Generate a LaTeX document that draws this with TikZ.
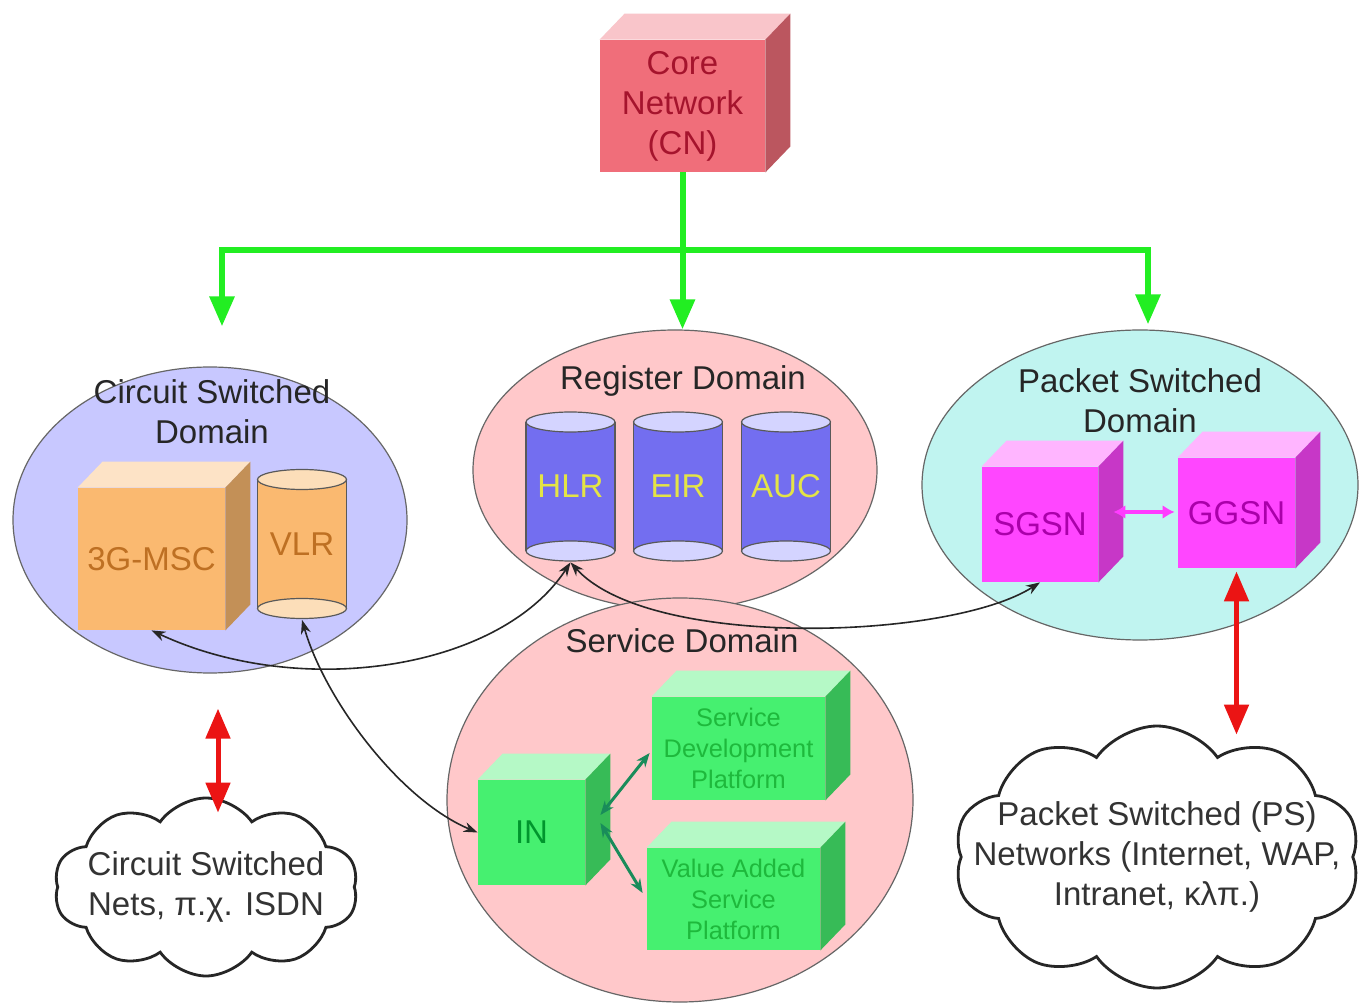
\documentclass[tikz,border=0pt]{standalone}
\usepackage{fontspec}
\setmainfont{Liberation Sans}
\usetikzlibrary{arrows.meta, calc, shapes.geometric, shapes.symbols}

\definecolor{cnred}{RGB}{240,110,122}
\definecolor{cntext}{RGB}{165,20,45}
\definecolor{flow}{RGB}{34,238,34}
\definecolor{csfill}{RGB}{200,200,255}
\definecolor{regfill}{RGB}{255,200,202}
\definecolor{psfill}{RGB}{192,244,240}
\definecolor{mscorange}{RGB}{250,185,112}
\definecolor{msctext}{RGB}{190,112,35}
\definecolor{dbblue}{RGB}{115,110,240}
\definecolor{dbend}{RGB}{212,212,255}
\definecolor{dbtext}{RGB}{228,228,70}
\definecolor{vlrend}{RGB}{252,222,185}
\definecolor{gsn}{RGB}{255,70,255}
\definecolor{gsntext}{RGB}{170,0,170}
\definecolor{ingreen}{RGB}{70,240,112}
\definecolor{intext}{RGB}{0,150,45}
\definecolor{sptext}{RGB}{30,185,60}
\definecolor{linkred}{RGB}{235,20,20}
\definecolor{linkgreen}{RGB}{25,140,90}
\definecolor{linkmag}{RGB}{255,60,255}

\tikzset{
    bigfont/.style={font=\fontsize{16.5}{20}\selectfont},
    zone/.style={ellipse, draw=black!60, line width=0.6pt, inner sep=0pt},
    zonename/.style={bigfont, align=center, text=black!85},
    block/.style={rectangle, inner sep=0pt, align=center, bigfont},
    drum/.style n args={3}{rectangle, minimum width=45.5pt, minimum height=75.5pt,
        inner sep=0pt, bigfont, text=#3, path picture={
        \fill[#1] ($(path picture bounding box.north west)+(1,11)$) rectangle ($(path picture bounding box.south east)+(-1,-11)$);
        \draw[black!65, line width=0.6pt, fill=#2] ($(path picture bounding box.south)+(0,-11)$) ellipse[x radius=22.25pt, y radius=5pt];
        \draw[black!65, line width=0.6pt, fill=#2] ($(path picture bounding box.north)+(0,11)$) ellipse[x radius=22.25pt, y radius=5pt];
        \draw[black!65, line width=0.6pt] ($(path picture bounding box.north west)+(1,11)$) -- ($(path picture bounding box.south west)+(1,-11)$);
        \draw[black!65, line width=0.6pt] ($(path picture bounding box.north east)+(-1,11)$) -- ($(path picture bounding box.south east)+(-1,-11)$);
    }},
    netcloud/.style={cloud, cloud puffs=10, cloud puff arc=110, cloud ignores aspect,
        draw=black!85, line width=1.4pt, fill=white, align=center,
        inner xsep=-45pt, inner ysep=-25pt, text=black!80, bigfont},
    trunk/.style={flow, line width=3pt, -{Triangle[length=15pt, width=12pt]}},
    redlink/.style={linkred, line width=2.5pt, {Triangle[length=15pt, width=12pt]}-{Triangle[length=15pt, width=12pt]}},
    sigline/.style={black!85, line width=0.8pt, {Stealth[length=7pt, width=5pt]}-{Stealth[length=7pt, width=5pt]}},
    greenlink/.style={linkgreen, line width=1.5pt, {Stealth[length=7pt, width=5.5pt]}-{Stealth[length=7pt, width=5.5pt]}},
    maglink/.style={linkmag, line width=2pt, {Latex[length=6pt, width=7pt]}-{Latex[length=6pt, width=7pt]}}
}

% front face as a node, top and side faces drawn from its anchors
\newcommand{\block}[5]{%
    \node[block, fill=#1, #4] (#2) at (#3) {#5};
    \fill[#1!40!white] (#2.north west) -- ++(25,-26) -- ($(#2.north east)+(25,-26)$) -- (#2.north east) -- cycle;
    \fill[#1!78!black] (#2.north east) -- ++(25,-26) -- ($(#2.south east)+(25,-26)$) -- (#2.south east) -- cycle;
}

\begin{document}
\begin{tikzpicture}[x=0.5pt, y=-0.5pt]
    \useasboundingbox (0,0) rectangle (1359,1004);
    \fill[white] (0,0) rectangle (1359,1004);

    % domains
    \node[zone, fill=csfill, minimum width=197pt, minimum height=153pt] (csd) at (210,520) {};
    \node[zone, fill=regfill, minimum width=202pt, minimum height=140pt] (regd) at (675,470) {};
    \node[zone, fill=psfill, minimum width=218pt, minimum height=155pt] (psd) at (1140,485) {};
    \node[zone, fill=regfill, minimum width=233pt, minimum height=202pt] (sd) at (680,800) {};

    \node[zonename] (csdname) at (212,412) {Circuit Switched\\Domain};
    \node[zonename] (regdname) at (683,381) {Register Domain};
    \node[zonename] (psdname) at (1140,401) {Packet Switched\\Domain};
    \node[zonename] (sdname) at (682,641) {Service Domain};

    % core network
    \block{cnred}{cn}{682.5,106}{minimum width=82.5pt, minimum height=66pt, text=cntext}{Core\\Network\\(CN)}

    % circuit switched domain
    \block{mscorange}{msc}{151.5,559}{minimum width=73.5pt, minimum height=71pt, text=msctext}{3G-MSC}
    \node[drum={mscorange}{vlrend}{msctext}] (vlr) at (302,544) {VLR};

    % register domain
    \foreach \nm/\xpos/\txt in {hlr/570.5/HLR, eir/678/EIR, auc/786/AUC} {
        \node[drum={dbblue}{dbend}{dbtext}] (\nm) at (\xpos,486.5) {\txt};
    }

    % packet switched domain
    \block{gsn}{sgsn}{1040,524.5}{minimum width=58pt, minimum height=57.5pt, text=gsntext}{SGSN}
    \block{gsn}{ggsn}{1236.5,513}{minimum width=58.5pt, minimum height=55pt, text=gsntext}{GGSN}

    % service domain
    \block{ingreen}{in}{531.5,832.5}{minimum width=53.5pt, minimum height=52.5pt, text=intext}{IN}
    \block{ingreen}{sdp}{738.5,748.5}{minimum width=86.5pt, minimum height=51.5pt, text=sptext, font=\fontsize{12.7}{15.5}\selectfont}{Service\\Development\\Platform}
    \block{ingreen}{vasp}{733.5,899}{minimum width=86.5pt, minimum height=51pt, text=sptext, font=\fontsize{12.7}{15.5}\selectfont}{Value Added\\Service\\Platform}

    % external networks
    \node[netcloud, minimum width=152pt, minimum height=89pt] (cscloud) at (206,887) {Circuit Switched\\Nets, π.χ. ISDN};
    \node[netcloud, minimum width=203pt, minimum height=131pt] (pscloud) at (1157,857) {Packet Switched (PS)\\Networks (Internet, WAP,\\Intranet, κλπ.)};

    % core network to the domains
    \coordinate (split) at ($(cn.south)+(0,78)$);
    \draw[trunk] (cn.south) -- (cn.south |- regd.north);
    \draw[trunk, {Triangle[length=15pt, width=12pt]}-{Triangle[length=15pt, width=12pt]}]
        ($(csd.north)+(12,-40)$) |- (split) -| ($(psd.north)+(8,-5)$);

    % signalling
    \draw[sigline] (msc.south) .. controls (300,700) and (500,670) .. (hlr.south);
    \draw[sigline] (vlr.south) .. controls (325,700) and (400,800) .. (in.west);
    \draw[sigline] (hlr.south) .. controls (650,650) and (950,640) .. (sgsn.south);

    \draw[maglink] ($(sgsn.east)+(15,-12.5)$) -- ($(ggsn.west)+(-3,-1)$);
    \draw[greenlink] ($(in.east)+(15,-17.5)$) -- ($(sdp.west)+(-2,4.5)$);
    \draw[greenlink] ($(in.east)+(15,-9.5)$) -- ($(vasp.west)+(-4,-6)$);

    % links to the outside networks
    \coordinate (csgate) at ($(csd.south)+(8,35)$);
    \draw[redlink, shorten >=-8pt] (csgate) -- (csgate |- cscloud.north);
    \draw[redlink, shorten >=-5pt] ($(ggsn.south)+(0,3)$) -- (ggsn.south |- pscloud.north);
\end{tikzpicture}
\end{document}
